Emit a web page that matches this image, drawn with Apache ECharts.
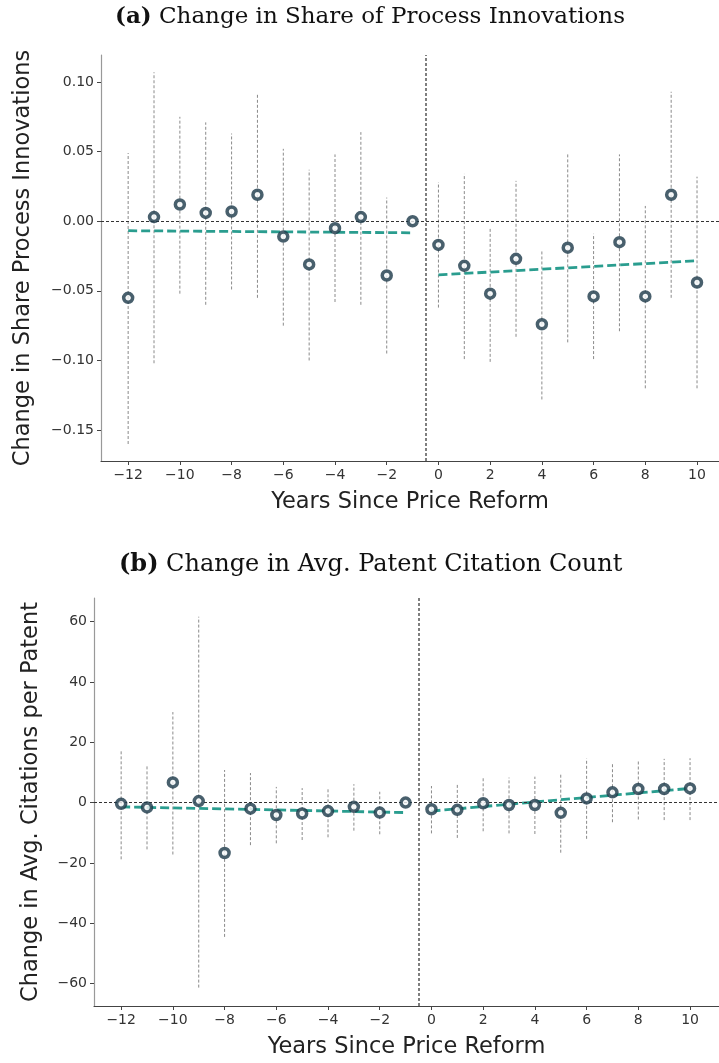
<!DOCTYPE html>
<html>
<head>
<meta charset="utf-8">
<script src="https://cdn.jsdelivr.net/npm/echarts@6/dist/echarts.min.js"></script>
<style>
  html, body { margin: 0; padding: 0; background: #fff; }
  #chart { width: 719px; height: 1063px; }
</style>
</head>
<body>
<div id="chart"></div>
<script>
// Event-study estimates by year relative to the price reform (-1 is the reference year)
const years = [-12, -11, -10, -9, -8, -7, -6, -5, -4, -3, -2, -1, 0, 1, 2, 3, 4, 5, 6, 7, 8, 9, 10];
const xTicks = [-12, -10, -8, -6, -4, -2, 0, 2, 4, 6, 8, 10];

// (a) share of process innovations
const processPoint = [-0.055, 0.003, 0.012, 0.006, 0.007, 0.019, -0.011, -0.031, -0.005, 0.003, -0.039, 0.000,
  -0.017, -0.032, -0.052, -0.027, -0.074, -0.019, -0.054, -0.015, -0.054, 0.019, -0.044];
const processLow = [-0.160, -0.102, -0.052, -0.060, -0.049, -0.055, -0.075, -0.100, -0.058, -0.060, -0.095, null,
  -0.062, -0.099, -0.101, -0.083, -0.128, -0.087, -0.099, -0.079, -0.120, -0.055, -0.120];
const processHigh = [0.049, 0.107, 0.075, 0.071, 0.063, 0.091, 0.052, 0.037, 0.048, 0.064, 0.017, null,
  0.028, 0.034, -0.005, 0.029, -0.021, 0.048, -0.009, 0.048, 0.011, 0.093, 0.032];
const processTrendPre = [[-12, -0.0068], [-1, -0.0083]];
const processTrendPost = [[0, -0.0385], [10, -0.0284]];
const processTicks = [-0.15, -0.10, -0.05, 0.00, 0.05, 0.10];

// (b) average citations per patent
const citePoint = [-0.4, -1.6, 6.7, 0.5, -16.7, -2.0, -4.1, -3.6, -2.8, -1.4, -3.3, 0.0,
  -2.2, -2.4, -0.2, -0.8, -0.8, -3.4, 1.4, 3.4, 4.5, 4.5, 4.7];
const citeLow = [-18.8, -15.5, -17.2, -61.3, -44.5, -14.1, -13.5, -12.4, -11.5, -9.3, -10.5, null,
  -10.2, -11.7, -9.5, -10.2, -10.4, -16.6, -12.0, -6.5, -5.6, -5.8, -5.8];
const citeHigh = [17.6, 12.1, 30.0, 61.6, 10.8, 9.8, 5.2, 4.8, 4.6, 6.1, 3.6, null,
  5.5, 5.9, 8.1, 8.3, 8.6, 9.3, 14.6, 13.0, 13.9, 14.5, 14.7];
const citeTrendPre = [[-12, -1.4], [-1, -3.3]];
const citeTrendPost = [[0, -2.8], [10, 4.7]];
const citeTicks = [-60, -40, -20, 0, 20, 40, 60];

const minus = v => (v < 0 ? '\u2212' : '') + Math.abs(v);
const fmt2 = v => (v < 0 ? '\u2212' : '') + Math.abs(v).toFixed(2);

const TEAL = '#2a9d8f';
const NAVY = '#1c3848';
const sans = 'DejaVu Sans';
const NAME_SIZE = 22.5;

function xAxisFor(idx, max) {
  return {
    type: 'value', gridIndex: idx, min: -13.05, max: max,
    name: 'Years Since Price Reform', nameLocation: 'middle', nameGap: 30,
    nameTextStyle: { fontFamily: sans, fontSize: NAME_SIZE, color: '#222' },
    axisLine: { show: true, onZero: false, lineStyle: { color: '#444', width: 1.2 } },
    axisTick: { show: true, length: 4, lineStyle: { color: '#444' }, customValues: xTicks },
    axisLabel: { fontFamily: sans, fontSize: 14, color: '#333', margin: 7, formatter: minus, customValues: xTicks },
    splitLine: { show: false }
  };
}

function yAxisFor(idx, min, max, ticks, fmt, name, gap) {
  return {
    type: 'value', gridIndex: idx, min: min, max: max,
    name: name, nameLocation: 'middle', nameGap: gap,
    nameTextStyle: { fontFamily: sans, fontSize: NAME_SIZE, color: '#222' },
    axisLine: { show: true, onZero: false, lineStyle: { color: '#999', width: 1.2 } },
    axisTick: { show: true, length: 4, lineStyle: { color: '#444' }, customValues: ticks },
    axisLabel: { fontFamily: sans, fontSize: 14, color: '#333', margin: 7, formatter: fmt, customValues: ticks },
    splitLine: { show: false }
  };
}

function errorBars(idx, low, high) {
  return {
    type: 'custom', xAxisIndex: idx, yAxisIndex: idx, z: 2, silent: true,
    data: years.map((y, i) => [y, low[i], high[i]]).filter(d => d[1] !== null),
    renderItem: function (params, api) {
      const a = api.coord([api.value(0), api.value(1)]);
      const b = api.coord([api.value(0), api.value(2)]);
      return {
        type: 'line',
        shape: { x1: a[0], y1: a[1], x2: b[0], y2: b[1] },
        style: { stroke: '#8a8a8a', lineWidth: 1, lineDash: [3, 2] }
      };
    }
  };
}

function trend(idx, data, withRefs) {
  const s = {
    type: 'line', xAxisIndex: idx, yAxisIndex: idx, z: 3, silent: true,
    data: data, symbol: 'none',
    lineStyle: { color: TEAL, width: 2.8, type: [9, 4] }
  };
  if (withRefs) {
    s.markLine = {
      silent: true, symbol: 'none', label: { show: false },
      data: [
        { yAxis: 0, lineStyle: { color: '#333', width: 1, type: [3, 2] } },
        { xAxis: -0.5, lineStyle: { color: '#555', width: 1.5, type: [3, 2] } }
      ]
    };
  }
  return s;
}

function points(idx, vals) {
  return {
    type: 'scatter', xAxisIndex: idx, yAxisIndex: idx, z: 5, silent: true,
    data: years.map((y, i) => [y, vals[i]]),
    symbol: 'circle', symbolSize: 9,
    itemStyle: { color: '#f4f6f7', borderColor: NAVY, borderWidth: 3.5 }
  };
}

function panelTitle(letter, text, left, top, size) {
  return {
    text: '{b|' + letter + '} ' + text,
    left: left, top: top,
    textStyle: { fontFamily: 'DejaVu Serif', fontSize: size, fontWeight: 'normal', color: '#111',
      rich: { b: { fontFamily: 'DejaVu Serif', fontSize: size, fontWeight: 'bold', color: '#111' } } }
  };
}

const chart = echarts.init(document.getElementById('chart'), null, { renderer: 'canvas' });
chart.setOption({
  animation: false,
  backgroundColor: '#fff',
  title: [
    panelTitle('(a)', 'Change in Share of Process Innovations', 110, 1, 23),
    panelTitle('(b)', 'Change in Avg. Patent Citation Count', 114, 548, 24)
  ],
  grid: [
    { left: 101, top: 55, width: 618, height: 406 },
    { left: 94, top: 598, width: 625, height: 408 }
  ],
  xAxis: [xAxisFor(0, 10.85), xAxisFor(1, 11.12)],
  yAxis: [
    yAxisFor(0, -0.1722, 0.1194, processTicks, fmt2, 'Change in Share Process Innovations', 66),
    yAxisFor(1, -67.4, 67.8, citeTicks, minus, 'Change in Avg. Citations per Patent', 51)
  ],
  series: [
    errorBars(0, processLow, processHigh),
    trend(0, processTrendPre, true),
    trend(0, processTrendPost, false),
    points(0, processPoint),
    errorBars(1, citeLow, citeHigh),
    trend(1, citeTrendPre, true),
    trend(1, citeTrendPost, false),
    points(1, citePoint)
  ]
});
</script>
</body>
</html>
